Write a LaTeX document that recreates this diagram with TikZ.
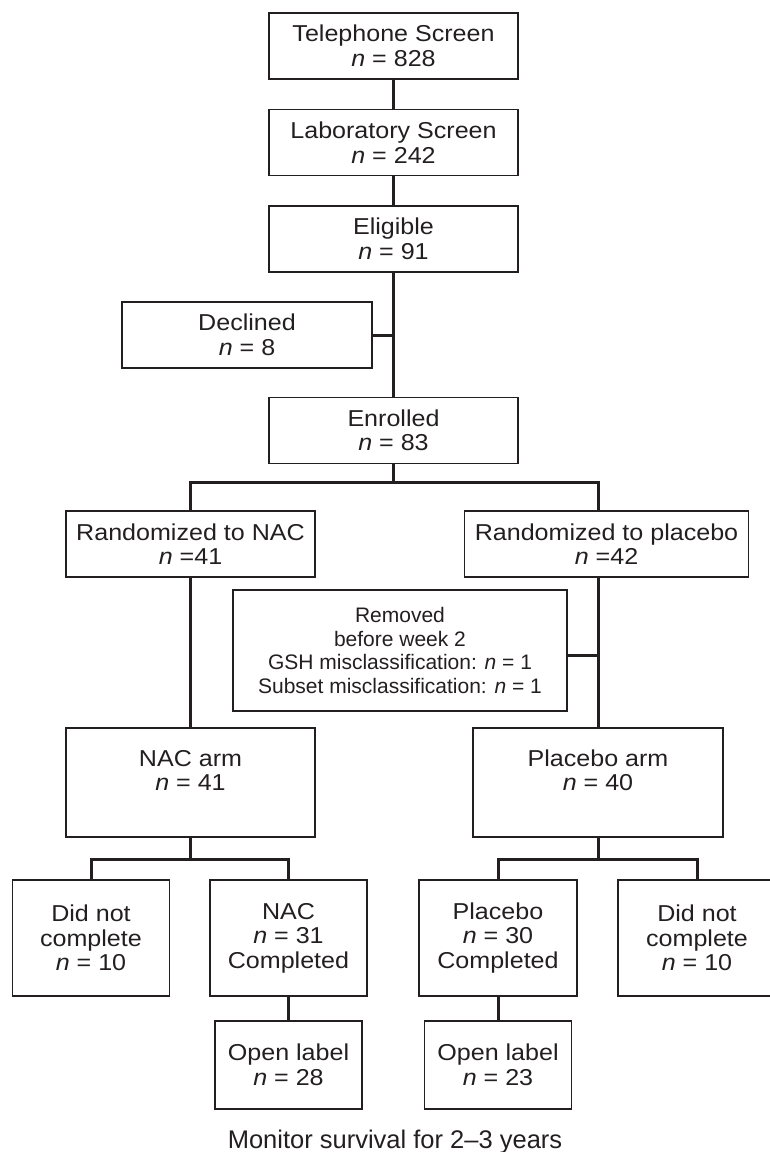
\documentclass[tikz,border=0pt]{standalone}
\usepackage{fontspec}
\setmainfont{Liberation Sans}[FakeStretch=1.09]
\newfontfamily\plainsf{Liberation Sans}[Ligatures=TeX]
\definecolor{ink}{HTML}{231F20}
\tikzstyle{flowbox}=[draw=ink,line width=1.2pt,text=ink,align=center,inner sep=0pt,font=\fontsize{23}{24.5}\selectfont]
\tikzstyle{topbox}=[flowbox,minimum width=249pt,minimum height=66pt]
\tikzstyle{endbox}=[flowbox,minimum width=157pt,minimum height=116pt]
\tikzstyle{openbox}=[flowbox,minimum width=147pt,minimum height=88pt]
\tikzstyle{link}=[draw=ink,line width=3pt]

\begin{document}
\begin{tikzpicture}[x=1pt,y=-1pt]
\useasboundingbox (0,0) rectangle (769,1152);
\node [topbox] (phone) at (393.5,46) {Telephone Screen\\\textit{n} = 828};
\node [topbox] (lab) at (393.5,142.5) {Laboratory Screen\\\textit{n} = 242};
\node [topbox] (elig) at (393.5,239) {Eligible\\\textit{n} = 91};
\node [topbox,minimum width=250pt] (decl) at (247,335) {Declined\\\textit{n} = 8};
\node [topbox] (enrol) at (393.5,430.5) {Enrolled\\\textit{n} = 83};
\node [topbox] (rnac) at (190.5,544) {Randomized to NAC\\\textit{n} =41};
\node [topbox,minimum width=284pt] (rpla) at (606.5,544) {Randomized to placebo\\\textit{n} =42};
\node [flowbox,minimum width=334pt,minimum height=121pt,font=\plainsf\fontsize{21}{23.7}\selectfont] (removed) at (400,650.5)
  {Removed\\before week 2\\GSH misclassification: \textit{n} = 1\\Subset misclassification: \textit{n} = 1};
\node [topbox,minimum height=109pt] (narm) at (190.5,782.5) {NAC arm\\\textit{n} = 41\\\mbox{}};
\node [topbox,minimum width=250pt,minimum height=109pt] (parm) at (598,782.5) {Placebo arm\\\textit{n} = 40\\\mbox{}};
\node [endbox] (nstop) at (91,938) {Did not\\complete\\\textit{n} = 10};
\node [endbox] (ndone) at (288.5,938) {NAC\\\textit{n} = 31\\Completed};
\node [endbox,minimum width=158pt] (pdone) at (498,938) {Placebo\\\textit{n} = 30\\Completed};
\node [endbox,minimum width=158pt] (pstop) at (697,938) {Did not\\complete\\\textit{n} = 10};
\node [openbox] (nopen) at (288.5,1065) {Open label\\\textit{n} = 28};
\node [openbox] (popen) at (498,1065) {Open label\\\textit{n} = 23};
\node [anchor=base,text=ink,inner sep=0pt,font=\plainsf\fontsize{25.5}{30}\selectfont] (monitor) at (395,1148) {Monitor survival for 2--3 years};

\draw [link] (phone.south) -- (lab.north);
\draw [link] (lab.south) -- (elig.north);
\draw [link] (elig.south) -- (enrol.north);
\draw [link] (decl.east) -- (decl.east -| elig.south);
\draw [link] (enrol.south) -- ++(0,18) coordinate (split);
\draw [link] (rnac.north) |- (split) -| (rpla.north -| parm.north);
\draw [link] (rnac.south) -- (narm.north);
\draw [link] (rpla.south -| parm.north) -- (parm.north);
\draw [link] ([yshift=-5pt]removed.east) -- ([yshift=-5pt]removed.east -| parm.north);
\draw [link] (narm.south) -- ++(0,22) coordinate (nsplit);
\draw [link] (nstop.north) |- (nsplit) -| (ndone.north);
\draw [link] (parm.south) -- ++(0,22) coordinate (psplit);
\draw [link] (pdone.north) |- (psplit) -| (pstop.north);
\draw [link] (ndone.south) -- (nopen.north);
\draw [link] (pdone.south) -- (popen.north);
\end{tikzpicture}
\end{document}
